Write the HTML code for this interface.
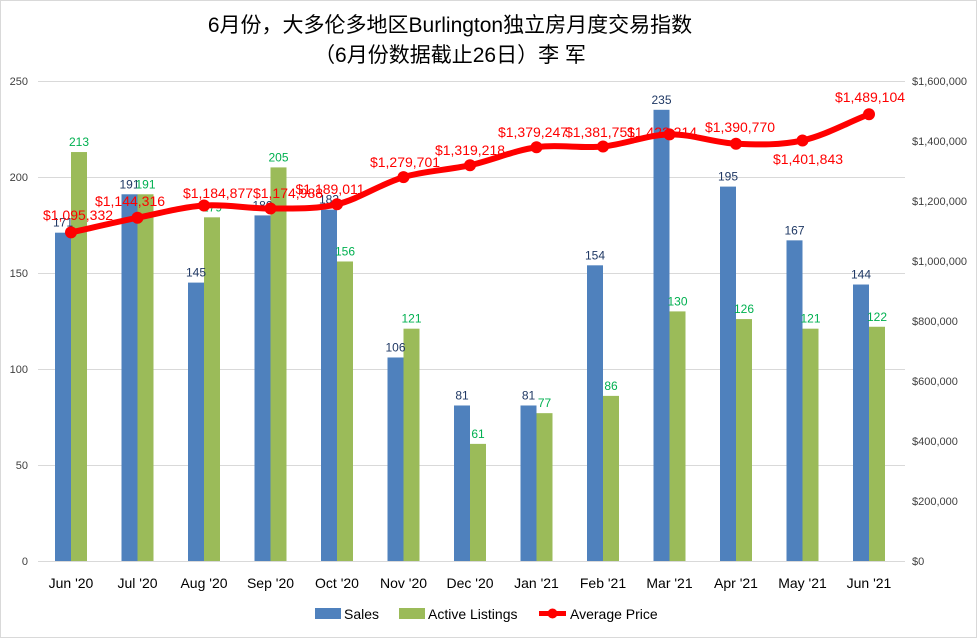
<!DOCTYPE html>
<html><head><meta charset="utf-8"><style>
html,body{margin:0;padding:0;background:#fff}
svg{display:block;font-family:"Liberation Sans","Noto Sans CJK SC",sans-serif}
</style></head><body>
<svg width="977" height="638" viewBox="0 0 977 638" xmlns="http://www.w3.org/2000/svg">
<rect x="0.5" y="0.5" width="976" height="637" fill="#fff" stroke="#d9d9d9"/>
<text x="450" y="32" font-size="21" text-anchor="middle" fill="#000">6月份，大多伦多地区Burlington独立房月度交易指数</text>
<text x="450" y="62" font-size="21" text-anchor="middle" fill="#000">（6月份数据截止26日）李 军</text>
<g stroke="#d9d9d9" stroke-width="1">
<line x1="38" x2="905" y1="81.5" y2="81.5"/><line x1="38" x2="905" y1="177.5" y2="177.5"/>
<line x1="38" x2="905" y1="273.5" y2="273.5"/><line x1="38" x2="905" y1="369.5" y2="369.5"/>
<line x1="38" x2="905" y1="465.5" y2="465.5"/><line x1="38" x2="905" y1="561.5" y2="561.5"/>
</g>
<g font-size="11" fill="#404040" text-anchor="end">
<text x="28" y="85">250</text><text x="28" y="181">200</text><text x="28" y="277">150</text>
<text x="28" y="373">100</text><text x="28" y="469">50</text><text x="28" y="565">0</text>
</g>
<g font-size="11" fill="#404040" text-anchor="start">
<text x="912" y="85">$1,600,000</text><text x="912" y="145">$1,400,000</text><text x="912" y="205">$1,200,000</text>
<text x="912" y="265">$1,000,000</text><text x="912" y="325">$800,000</text><text x="912" y="385">$600,000</text>
<text x="912" y="445">$400,000</text><text x="912" y="505">$200,000</text><text x="912" y="565">$0</text>
</g>
<g id="bars"></g>
<g id="xl" font-size="14" fill="#000" text-anchor="middle"></g>
<g id="line"></g>
<rect x="315" y="608" width="26" height="11" fill="#4f81bd"/>
<text x="344" y="619" font-size="14">Sales</text>
<rect x="399" y="608" width="26" height="11" fill="#9bbb59"/>
<text x="428" y="619" font-size="14">Active Listings</text>
<line x1="539" x2="566" y1="613.5" y2="613.5" stroke="#ff0000" stroke-width="5"/>
<circle cx="552.5" cy="613.5" r="5" fill="#ff0000"/>
<text x="570" y="619" font-size="14">Average Price</text>
<script>
var ns="http://www.w3.org/2000/svg";
var m=["Jun '20","Jul '20","Aug '20","Sep '20","Oct '20","Nov '20","Dec '20","Jan '21","Feb '21","Mar '21","Apr '21","May '21","Jun '21"];
var s=[171,191,145,180,183,106,81,81,154,235,195,167,144];
var a=[213,191,179,205,156,121,61,77,86,130,126,121,122];
var p=[1095332,1144316,1184877,1174988,1189011,1279701,1319218,1379247,1381751,1422214,1390770,1401843,1489104];
var pl=[[78,220],[130,206],[218,198],[288,198],[330,194],[405,167],[470,155],[533,137],[600,137],[662,137],[740,132],[808,164],[870,102]];
function el(t,at,par,txt){var e=document.createElementNS(ns,t);for(var k in at)e.setAttribute(k,at[k]);if(txt!=null)e.textContent=txt;document.getElementById(par).appendChild(e);return e;}
var pts=[];
for(var i=0;i<13;i++){
 var c=71+66.5*i;
 var hs=s[i]*1.92, ha=a[i]*1.92;
 el("rect",{x:c-16,y:561-hs,width:16,height:hs,fill:"#4f81bd"},"bars");
 el("rect",{x:c,y:561-ha,width:16,height:ha,fill:"#9bbb59"},"bars");
 el("text",{x:c-8,y:561-hs-6,"font-size":12,fill:"#1f3864","text-anchor":"middle"},"bars",s[i]);
 el("text",{x:c+8,y:561-ha-6,"font-size":12,fill:"#00b050","text-anchor":"middle"},"bars",a[i]);
 el("text",{x:c,y:588},"xl",m[i]);
 pts.push([c,561-p[i]*0.0003]);
}
var d="M"+pts[0][0]+","+pts[0][1];
for(var i=1;i<13;i++){var x0=pts[i-1][0],y0=pts[i-1][1],x1=pts[i][0],y1=pts[i][1];
 var ym0=i>1?(pts[i][1]-pts[i-2][1])/2*0.33:(y1-y0)*0.33;
 var ym1=i<12?(pts[i+1][1]-pts[i-1][1])/2*0.33:(y1-y0)*0.33;
 d+=" C"+(x0+22)+","+(y0+ym0)+" "+(x1-22)+","+(y1-ym1)+" "+x1+","+y1;}
el("path",{d:d,fill:"none",stroke:"#ff0000","stroke-width":6,"stroke-linejoin":"round"},"line");
for(var i=0;i<13;i++){
 el("circle",{cx:pts[i][0],cy:pts[i][1],r:6,fill:"#ff0000"},"line");
 el("text",{x:pl[i][0],y:pl[i][1],"font-size":14,fill:"#ff0000","text-anchor":"middle"},"line","$"+p[i].toLocaleString("en-US"));
}
</script>
</svg>
</body></html>
